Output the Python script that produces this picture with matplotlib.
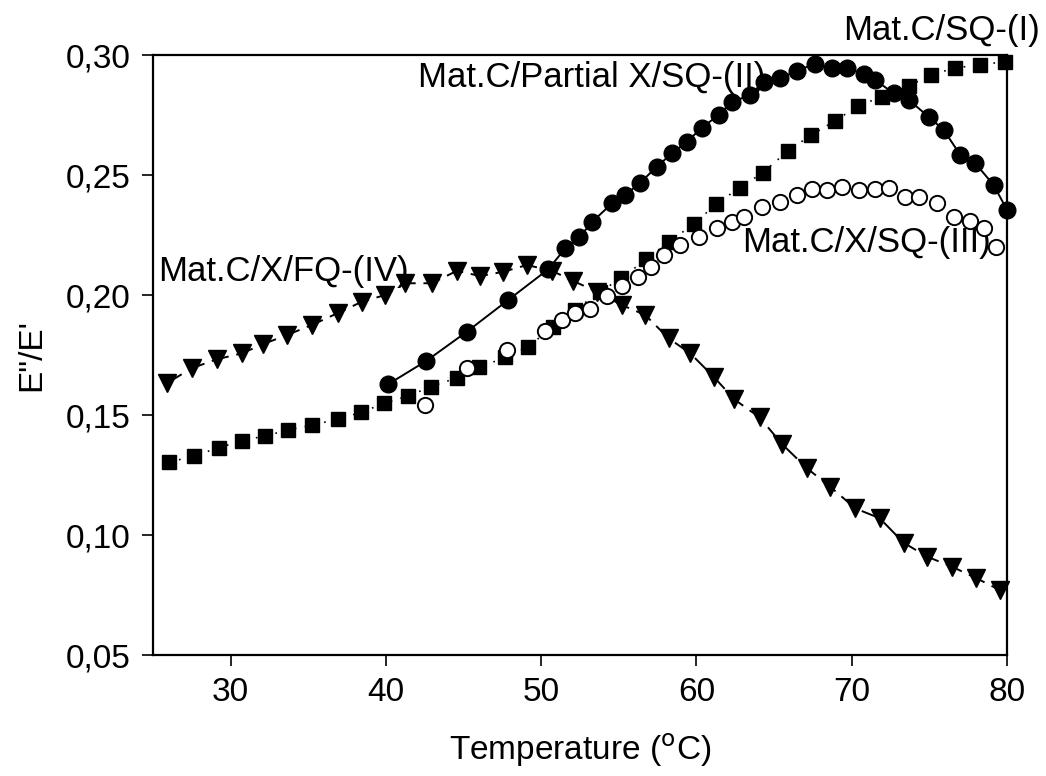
import matplotlib
matplotlib.use("Agg")
import matplotlib.pyplot as plt
from matplotlib.ticker import FuncFormatter

plt.rcParams["font.family"] = ["Liberation Sans", "DejaVu Sans"]

# Mat.C/SQ-(I) - filled squares, dotted line
t_sq = [26.05, 27.64, 29.25, 30.72, 32.22, 33.72, 35.26, 36.90, 38.40, 39.90,
        41.41, 42.91, 44.57, 46.02, 47.68, 49.14, 50.79, 52.19, 53.80, 55.15,
        56.77, 58.20, 59.81, 61.27, 62.78, 64.28, 65.90, 67.40, 68.94, 70.41,
        71.95, 73.67, 75.11, 76.68, 78.29, 79.89]
y_sq = [0.1303, 0.1330, 0.1364, 0.1393, 0.1413, 0.1438, 0.1458, 0.1483, 0.1511, 0.1549,
        0.1579, 0.1618, 0.1655, 0.1699, 0.1740, 0.1785, 0.1868, 0.1938, 0.2014, 0.2070,
        0.2149, 0.2220, 0.2295, 0.2379, 0.2447, 0.2510, 0.2601, 0.2667, 0.2726, 0.2788,
        0.2826, 0.2871, 0.2918, 0.2946, 0.2960, 0.2972]

# Mat.C/Partial X/SQ-(II) - filled circles, solid line
t_pc = [40.16, 42.59, 45.21, 47.87, 50.47, 51.55, 52.45, 53.29, 54.56, 55.41,
        56.38, 57.45, 58.42, 59.39, 60.35, 61.42, 62.29, 63.47, 64.32, 65.40,
        66.47, 67.65, 68.73, 69.70, 70.77, 71.52, 72.70, 73.67, 74.95, 75.92,
        77.00, 77.96, 79.14, 80.01]
y_pc = [0.1629, 0.1725, 0.1847, 0.1979, 0.2108, 0.2195, 0.2240, 0.2305, 0.2382, 0.2417,
        0.2468, 0.2535, 0.2590, 0.2639, 0.2697, 0.2750, 0.2805, 0.2833, 0.2889, 0.2903,
        0.2935, 0.2963, 0.2945, 0.2945, 0.2921, 0.2896, 0.2840, 0.2813, 0.2743, 0.2688,
        0.2583, 0.2549, 0.2458, 0.2354]

# Mat.C/X/SQ-(III) - open circles
t_oc = [42.53, 45.21, 47.79, 50.26, 51.33, 52.19, 53.16, 54.22, 55.19, 56.25,
        57.09, 57.88, 58.96, 60.14, 61.32, 62.29, 63.04, 64.22, 65.40, 66.48,
        67.44, 68.41, 69.38, 70.45, 71.52, 72.38, 73.45, 74.31, 75.50, 76.57,
        77.64, 78.50, 79.32]
y_oc = [0.1542, 0.1695, 0.1771, 0.1852, 0.1894, 0.1924, 0.1942, 0.1994, 0.2038, 0.2073,
        0.2115, 0.2167, 0.2208, 0.2243, 0.2278, 0.2305, 0.2324, 0.2365, 0.2389, 0.2417,
        0.2440, 0.2438, 0.2449, 0.2438, 0.2440, 0.2445, 0.2410, 0.2407, 0.2382, 0.2326,
        0.2310, 0.2278, 0.2199]

# Mat.C/X/FQ-(IV) - filled down triangles, dashed line
t_tr = [25.88, 27.49, 29.10, 30.72, 32.11, 33.61, 35.23, 36.94, 38.45, 39.95,
        41.24, 42.96, 44.57, 46.07, 47.57, 49.08, 50.69, 52.08, 53.61, 55.20,
        56.70, 58.20, 59.60, 61.10, 62.44, 64.07, 65.51, 67.12, 68.62, 70.23,
        71.80, 73.34, 74.85, 76.46, 78.03, 79.53]
y_tr = [0.1632, 0.1695, 0.1732, 0.1757, 0.1796, 0.1833, 0.1875, 0.1926, 0.1972, 0.2000,
        0.2049, 0.2049, 0.2101, 0.2079, 0.2097, 0.2125, 0.2101, 0.2058, 0.2013, 0.1958,
        0.1917, 0.1820, 0.1757, 0.1660, 0.1565, 0.1490, 0.1379, 0.1278, 0.1201, 0.1111,
        0.1070, 0.0968, 0.0910, 0.0868, 0.0820, 0.0771]

x_ticks = [30, 40, 50, 60, 70, 80]
y_ticks = [0.05, 0.10, 0.15, 0.20, 0.25, 0.30]

fig = plt.figure(figsize=(10.46, 7.76), dpi=100)
ax = fig.add_axes([0.1463, 0.1559, 0.8164, 0.7732])

ax.plot(t_tr, y_tr, color="black", lw=1.4, ls=(0, (9, 4)), marker="v",
        ms=13, mfc="black", mec="black", clip_on=False, zorder=2)
ax.plot(t_sq, y_sq, color="black", lw=1.2, ls=(0, (1, 5)), marker="s",
        ms=10.5, mfc="black", mec="black", clip_on=False, zorder=3)
ax.plot(t_oc, y_oc, ls="none", marker="o", ms=11, mfc="white", mec="black",
        mew=1.4, clip_on=False, zorder=4)
ax.plot(t_pc, y_pc, color="black", lw=1.4, marker="o", ms=12,
        mfc="black", mec="black", clip_on=False, zorder=5)

ax.set_xlim(25, 80)
ax.set_ylim(0.05, 0.30)
ax.set_xticks(x_ticks)
ax.set_yticks(y_ticks)
ax.yaxis.set_major_formatter(FuncFormatter(lambda v, p: f"{v:.2f}".replace(".", ",")))
ax.tick_params(direction="out", length=8, width=1.2, labelsize=24, pad=8)
for s in ax.spines.values():
    s.set_linewidth(1.6)

ax.set_xlabel("Temperature ($^{\\mathrm{o}}$C)", fontsize=24)
ax.xaxis.set_label_coords(0.5, -0.128)
ax.set_ylabel("E\"/E'", fontsize=24)
ax.yaxis.set_label_coords(-0.124, 0.5)

fs = 25
ax.text(82.15, 0.3104, "Mat.C/SQ-(I)", fontsize=fs, ha="right", va="center", clip_on=False)
ax.text(42.07, 0.2908, "Mat.C/Partial X/SQ-(II)", fontsize=fs, ha="left", va="center")
ax.text(62.95, 0.2217, "Mat.C/X/SQ-(III)", fontsize=fs, ha="left", va="center")
ax.text(25.32, 0.2100, "Mat.C/X/FQ-(IV)", fontsize=fs, ha="left", va="center")

fig.savefig("out.png", dpi=100)
